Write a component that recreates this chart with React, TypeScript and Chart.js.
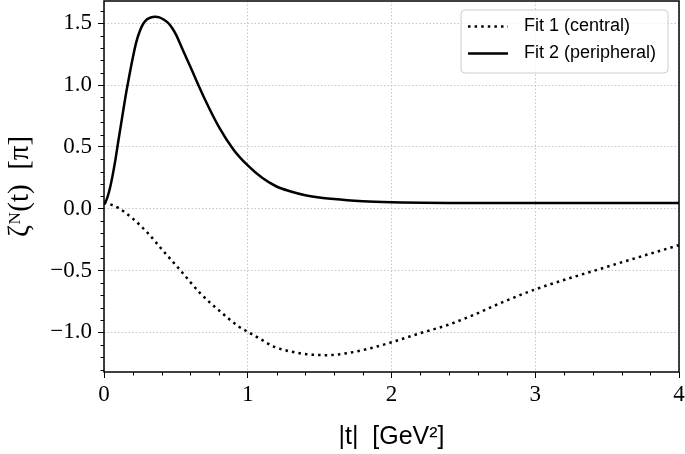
import { useEffect, useRef } from "react";
import { Chart, registerables } from "chart.js";

Chart.register(...registerables);

// ---- data ----
const fit1T = [0, 0.05, 0.1, 0.2, 0.3, 0.4, 0.53, 0.67, 0.81, 0.935, 1.0, 1.09, 1.18, 1.3, 1.41, 1.55, 1.69, 1.83, 2.0, 2.2, 2.39, 2.57, 2.78, 3.0, 3.5, 4.0];
const fit1Values = [0.05, 0.033, 0.007, -0.08, -0.19, -0.325, -0.496, -0.684, -0.832, -0.95, -0.995, -1.055, -1.114, -1.155, -1.176, -1.184, -1.168, -1.135, -1.08, -1.006, -0.94, -0.859, -0.752, -0.652, -0.469, -0.294];

const fit2T = [0, 0.02, 0.04, 0.06, 0.08, 0.1, 0.125, 0.15, 0.175, 0.2, 0.225, 0.25, 0.275, 0.3, 0.325, 0.355, 0.385, 0.415, 0.45, 0.475, 0.5, 0.55, 0.6, 0.7, 0.8, 0.9, 1.0, 1.1, 1.2, 1.3, 1.4, 1.6, 1.8, 2.0, 2.5, 3.0, 4.0];
const fit2Values = [0.035, 0.08, 0.16, 0.27, 0.4, 0.55, 0.73, 0.91, 1.07, 1.22, 1.35, 1.44, 1.5, 1.532, 1.547, 1.553, 1.548, 1.53, 1.498, 1.46, 1.41, 1.28, 1.15, 0.89, 0.66, 0.48, 0.35, 0.25, 0.18, 0.14, 0.11, 0.078, 0.06, 0.052, 0.047, 0.046, 0.046];

const seriesLabels = ["Fit 1 (central)", "Fit 2 (peripheral)"];
const xTicks = [0, 1, 2, 3, 4];
const xTickLabels = ["0", "1", "2", "3", "4"];
const yTicks = [-1, -0.5, 0, 0.5, 1, 1.5];
const yTickLabels = ["\u22121.0", "\u22120.5", "0.0", "0.5", "1.0", "1.5"];
const xRange = [0, 4];
const yRange = [-1.32, 1.68];
const xMinorStep = 0.2;
const yMinorStep = 0.1;
const xTitle = "|t|  [GeV\u00B2]";
const yTitle = "\u03B6\u1D3A(t)  [\u03C0]";

const minorAndFrame = {
  id: "minorAndFrame",
  afterDatasetsDraw(chart: any) {
    const { ctx, chartArea: a, scales } = chart;
    ctx.save();
    ctx.strokeStyle = "#000";
    ctx.lineWidth = 1;
    ctx.setLineDash([]);
    const xs = scales.x;
    const ys = scales.y;
    const nx = Math.round((xRange[1] - xRange[0]) / xMinorStep);
    for (let k = 0; k <= nx; k++) {
      const v = xRange[0] + k * xMinorStep;
      if (xTicks.some((t) => Math.abs(t - v) < 1e-6)) continue;
      const px = Math.round(xs.getPixelForValue(v)) + 0.5;
      ctx.beginPath();
      ctx.moveTo(px, a.bottom);
      ctx.lineTo(px, a.bottom + 3.5);
      ctx.stroke();
    }
    const y0 = Math.ceil(yRange[0] / yMinorStep);
    const y1 = Math.floor(yRange[1] / yMinorStep);
    for (let k = y0; k <= y1; k++) {
      const v = k * yMinorStep;
      if (yTicks.some((t) => Math.abs(t - v) < 1e-6)) continue;
      const py = Math.round(ys.getPixelForValue(v)) + 0.5;
      ctx.beginPath();
      ctx.moveTo(a.left, py);
      ctx.lineTo(a.left - 3.5, py);
      ctx.stroke();
    }
    ctx.lineWidth = 1.5;
    ctx.strokeRect(a.left, a.top, a.right - a.left, a.bottom - a.top);
    ctx.restore();
  },
  afterDraw(chart: any) {
    const { ctx, chartArea: a } = chart;
    const bx = a.right - 218;
    const by = a.top + 9;
    const bw = 207;
    const bh = 63;
    ctx.save();
    ctx.beginPath();
    ctx.roundRect(bx, by, bw, bh, 4);
    ctx.fillStyle = "rgba(255,255,255,0.8)";
    ctx.fill();
    ctx.strokeStyle = "#cccccc";
    ctx.lineWidth = 1;
    ctx.stroke();
    chart.data.datasets.forEach((ds: any, i: number) => {
      const cy = by + 16.5 + i * 27;
      ctx.beginPath();
      ctx.setLineDash(ds.borderDash || []);
      ctx.strokeStyle = ds.borderColor;
      ctx.lineWidth = ds.borderWidth;
      ctx.moveTo(bx + 7, cy);
      ctx.lineTo(bx + 47, cy);
      ctx.stroke();
      ctx.setLineDash([]);
      ctx.fillStyle = "#000";
      ctx.font = "18px 'Liberation Sans'";
      ctx.textBaseline = "middle";
      ctx.textAlign = "left";
      ctx.fillText(ds.label, bx + 63, cy);
    });
    ctx.restore();
  },
};

export default function App() {
  const ref = useRef<HTMLCanvasElement | null>(null);
  useEffect(() => {
    if (!ref.current) return;
    const chart = new Chart(ref.current, {
      type: "line",
      data: {
        datasets: [
          {
            label: seriesLabels[0],
            data: fit1T.map((t, i) => ({ x: t, y: fit1Values[i] })),
            borderColor: "#000",
            borderWidth: 2.5,
            borderDash: [2.5, 4.1],
            pointRadius: 0,
            cubicInterpolationMode: "monotone",
            fill: false,
          },
          {
            label: seriesLabels[1],
            data: fit2T.map((t, i) => ({ x: t, y: fit2Values[i] })),
            borderColor: "#000",
            borderWidth: 2.5,
            pointRadius: 0,
            cubicInterpolationMode: "monotone",
            fill: false,
          },
        ],
      },
      options: {
        responsive: false,
        animation: false,
        devicePixelRatio: 1,
        layout: { padding: { top: 1, right: 6, left: 0, bottom: 0 } },
        plugins: { legend: { display: false }, tooltip: { enabled: false } },
        scales: {
          x: {
            type: "linear",
            min: xRange[0],
            max: xRange[1],
            afterBuildTicks: (s: any) => {
              s.ticks = xTicks.map((v) => ({ value: v }));
            },
            afterFit: (s: any) => {
              s.height = 82;
              s.paddingLeft = 0;
              s.paddingRight = 0;
            },
            ticks: {
              callback: (_v: any, i: number) => xTickLabels[i],
              color: "#000",
              font: { family: "'Liberation Serif'", size: 23 },
              padding: 3,
              maxRotation: 0,
              autoSkip: false,
            },
            grid: {
              color: "#b8b8b8",
              lineWidth: 0.8,
              tickColor: "#000",
              tickLength: 6,
              tickWidth: 1,
              borderDash: [1.5, 2],
            } as any,
            border: { display: false, dash: [1.5, 2] },
            title: {
              display: true,
              text: xTitle,
              color: "#000",
              font: { family: "'Liberation Sans'", size: 25 },
              padding: { top: 0, bottom: 2 },
            },
          },
          y: {
            type: "linear",
            min: yRange[0],
            max: yRange[1],
            afterBuildTicks: (s: any) => {
              s.ticks = yTicks.map((v) => ({ value: v }));
            },
            afterFit: (s: any) => {
              s.width = 104;
              s.paddingTop = 0;
              s.paddingBottom = 0;
            },
            ticks: {
              callback: (_v: any, i: number) => yTickLabels[i],
              color: "#000",
              font: { family: "'Liberation Serif'", size: 23 },
              padding: 6,
              autoSkip: false,
            },
            grid: {
              color: "#b8b8b8",
              lineWidth: 0.8,
              tickColor: "#000",
              tickLength: 6,
              tickWidth: 1,
              borderDash: [1.5, 2],
            } as any,
            border: { display: false, dash: [1.5, 2] },
            title: {
              display: true,
              text: yTitle,
              color: "#000",
              font: { family: "'Liberation Serif'", size: 29 },
              padding: { top: 3, bottom: 0 },
            },
          },
        },
      },
      plugins: [minorAndFrame],
    } as any);
    return () => chart.destroy();
  }, []);
  return (
    <div style={{ position: "fixed", left: 0, top: 0, width: 685, height: 454, background: "#fff" }}>
      <canvas ref={ref} width={685} height={454} style={{ display: "block" }} />
    </div>
  );
}
